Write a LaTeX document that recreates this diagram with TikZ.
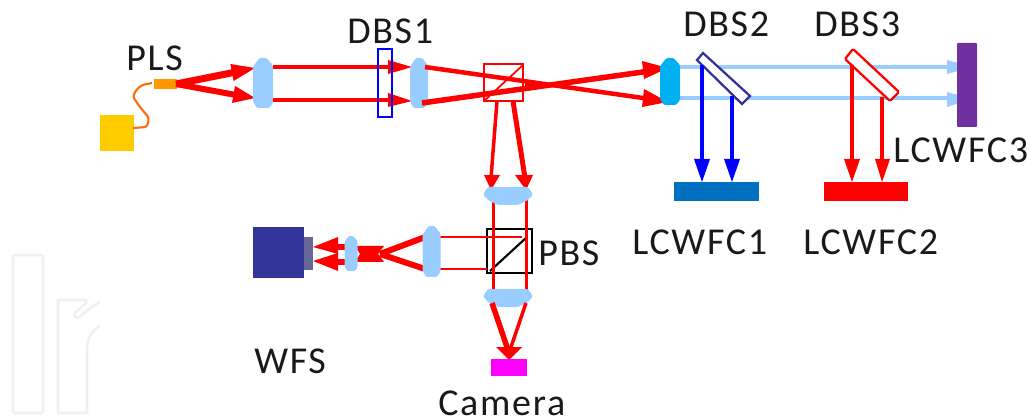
\documentclass[tikz,border=0pt]{standalone}
\usepackage{fontspec}
\setmainfont{Carlito}[LetterSpace=4.5]
\definecolor{lensblue}{HTML}{99CCFF}
\definecolor{lenscyan}{HTML}{00B0F0}
\definecolor{wmgrey}{HTML}{EFF1F1}
\definecolor{navy}{HTML}{333399}
\definecolor{navyb}{HTML}{666699}
\definecolor{fibre}{HTML}{FF6A13}
\definecolor{srcyellow}{HTML}{FFCC00}
\definecolor{srcorange}{HTML}{FF9900}
\definecolor{slmblue}{HTML}{0070C0}
\definecolor{slmviolet}{HTML}{7030A0}
\definecolor{cammag}{HTML}{FF00FF}
\definecolor{pure red}{HTML}{FF0000}
\definecolor{pure blue}{HTML}{0000FF}
\tikzset{
  lbl/.style={anchor=base west,inner sep=0pt,font=\fontsize{28.5}{30}\selectfont,text=black!90},
  ray/.style={pure red,line width=#1*0.75pt},
  ray/.default=4,
}
\newcommand{\vlens}[5][lensblue]{\fill[#1,rounded corners=1pt]
 (#2-#4*0.35,#3-#5) -- (#2+#4*0.35,#3-#5) -- (#2+#4,#3-#5*0.7) -- (#2+#4,#3+#5*0.8) -- (#2+#4*0.6,#3+#5) -- (#2-#4*0.6,#3+#5) -- (#2-#4,#3+#5*0.75) -- (#2-#4,#3-#5*0.65) -- cycle;}
\newcommand{\hlens}[4]{\fill[lensblue,rounded corners=1pt]
 (#1-#3,#2-#4*0.2) -- (#1-#3*0.8,#2-#4) -- (#1+#3*0.8,#2-#4) -- (#1+#3,#2-#4*0.2) -- (#1+#3*0.8,#2+#4*0.45) -- (#1+#3*0.4,#2+#4) -- (#1-#3*0.4,#2+#4) -- (#1-#3*0.8,#2+#4*0.45) -- cycle;}
\begin{document}
\begin{tikzpicture}[x=0.75pt,y=-0.75pt]
\useasboundingbox (0,0) rectangle (1031,420);
% watermark
\draw[wmgrey,line width=2pt,rounded corners=2pt] (13,255) rectangle (43,413);
\draw[wmgrey,line width=2pt,line join=round] (100,302) .. controls (92,306) and (84,313) .. (79,317) .. controls (76,319) and (73,316) .. (75,313) -- (85,304) .. controls (87,302) and (87,300) .. (85,300) -- (58,300) -- (58,413) -- (87,413) -- (87,350) .. controls (87,338) and (92,330) .. (100,326);
% source
\fill[srcyellow] (100,115) rectangle (134,151);
\fill[srcorange] (154,79) rectangle (177,89);
\draw[fibre,line width=1.6pt,rounded corners=2pt] (133,128) -- (147,127) -- (149,118) -- (140,107) -- (133,97) -- (136,90) -- (142,85) -- (152,83);
% beams section 1
\draw[ray=7] (176,84) -- (236,72);
\draw[ray=6] (176,84) -- (236,95);
\fill[pure red] (230.4,64) -- (255,68) -- (233.6,81) -- cycle;
\fill[pure red] (235,86) -- (255,98) -- (232,103) -- cycle;
\vlens{263}{83}{10}{25}
\draw[ray=4] (273,67) -- (392,67);
\draw[ray=4] (273,100) -- (392,100);
\fill[pure red] (388,60) -- (412,67) -- (388,74) -- cycle;
\fill[pure red] (388,93) -- (412,101) -- (388,107) -- cycle;
\draw[pure blue,line width=1.6pt] (378,49) rectangle (392,117);
\vlens{419}{83}{9}{25}
% central cross beams
\draw[ray=4.5] (425,67) -- (650,99);
\draw[ray=5.5] (422,103) -- (650,71);
\fill[pure red] (642,61) -- (668,68) -- (644,79) -- cycle;
\fill[pure red] (644,89) -- (668,102) -- (642,107) -- cycle;
\fill[pure red] (525,80) -- (565,85) -- (525,90) -- cycle;
\draw[pure red,line width=1.3pt] (484,64) rectangle (523,101);
\draw[pure red,line width=1.3pt] (523,65) -- (484,101);
% down beams
\draw[ray=3.5] (497,101) -- (491,178);
\draw[ray=5] (513,101) -- (525,178);
\fill[pure red] (484,175) -- (500,175) -- (491,190) -- cycle;
\fill[pure red] (515,175) -- (533,175) -- (526,190) -- cycle;
% PBS and lower vertical
\draw[black,line width=1.6pt] (487,229) rectangle (532,273);
\draw[black,line width=1.6pt] (527,237) -- (490,271);
\draw[ray=3] (493,200) -- (493,295);
\draw[ray=3] (526,200) -- (526,295);
\hlens{508}{196}{25}{9}
\hlens{508}{298}{25}{9}
\draw[ray=2.5] (439,237) -- (522,237);
\draw[ray=2.5] (439,269) -- (487,269);
% camera beams
\draw[ray=5.5] (492,303) -- (508,350);
\draw[ray=3.5] (526,303) -- (510,350);
\fill[pure red] (496,347) -- (522,347) -- (509,360) -- cycle;
\fill[cammag] (491,359) rectangle (527,376);
% WFS beams
\draw[ray=6] (428,236) -- (380,254);
\draw[ray=6] (428,270) -- (380,254);
\vlens{431.5}{251.5}{9}{25.5}
\fill[pure red] (355,246) -- (384,246) -- (378,254) -- (384,262) -- (355,262) -- (360,254) -- cycle;
\draw[ray=6] (336,247) -- (348,247);
\draw[ray=6] (336,262) -- (348,262);
\fill[pure red] (313,247) -- (338,237) -- (338,254) -- cycle;
\fill[pure red] (313,261) -- (338,253) -- (338,271) -- cycle;
\vlens{351}{253.5}{6.5}{17.5}
\fill[navy] (253,227) rectangle (304,278);
\fill[navyb] (304,237) rectangle (313,270);
% right beams
\draw[lensblue,line width=3pt] (680,67) -- (948,67);
\draw[lensblue,line width=3pt] (680,98.5) -- (948,98.5);
\fill[lensblue] (947,60) -- (972,67) -- (947,74) -- cycle;
\fill[lensblue] (947,92) -- (972,99) -- (947,107) -- cycle;
\vlens[lenscyan]{670}{81.5}{10}{23.5}
\draw[navy,fill=white,line width=1.7pt] (703,53) -- (697,60) -- (742,104) -- (750,96) -- cycle;
\draw[pure red,fill=white,line width=1.7pt,rounded corners=1pt] (853,49) -- (845,59) -- (890,101) -- (899,92) -- cycle;
\draw[pure blue,line width=3.6pt] (702,65) -- (702,165);
\draw[pure blue,line width=3pt] (732,96) -- (732,165);
\fill[pure blue] (694,159) -- (710,159) -- (702,182) -- cycle;
\fill[pure blue] (724,159) -- (740,159) -- (732,182) -- cycle;
\draw[pure red,line width=3pt] (852,65) -- (852,165);
\draw[pure red,line width=3pt] (882,97) -- (882,165);
\fill[pure red] (844,159) -- (860,159) -- (852,182) -- cycle;
\fill[pure red] (875,159) -- (890,159) -- (882,182) -- cycle;
\fill[slmblue] (674,182) rectangle (759,201);
\fill[pure red] (824,182) rectangle (908,201);
\fill[slmviolet,rounded corners=0.6pt] (957,43) rectangle (977,127);
% labels
\node[lbl] (pls) at (126,71) {PLS};
\node[lbl] (dbs1) at (347,44) {DBS1};
\node[lbl] (dbs2) at (683,37) {DBS2};
\node[lbl] (dbs3) at (814,37) {DBS3};
\node[lbl] (c3) at (893,163) {LCWFC3};
\node[lbl] (c1) at (632,255) {LCWFC1};
\node[lbl] (c2) at (803,255) {LCWFC2};
\node[lbl] (pbs) at (538,266) {PBS};
\node[lbl] (wfs) at (254,373) {WFS};
\node[lbl] (cam) at (438,415) {Camera};
\end{tikzpicture}
\end{document}
